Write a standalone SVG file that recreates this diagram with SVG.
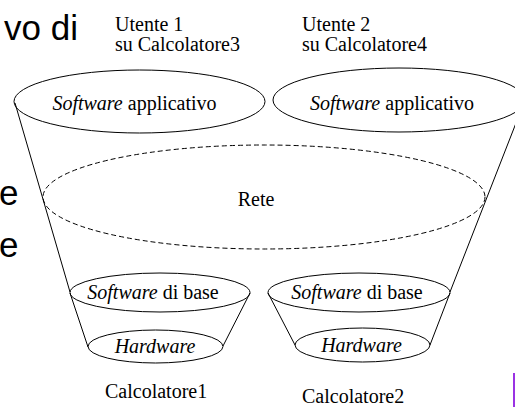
<svg xmlns="http://www.w3.org/2000/svg" width="515" height="407" viewBox="0 0 515 407">
<style>
.sh{fill:none;stroke:#000;stroke-width:1}
.dash{fill:none;stroke:#000;stroke-width:1;stroke-dasharray:5 3}
.t{font-family:"Liberation Serif","Times New Roman",serif;font-size:20px;fill:#000}
.c{text-anchor:middle}
.big{font-family:"Liberation Sans",Arial,sans-serif;font-size:35px;fill:#000}
</style>
<rect width="515" height="407" fill="#fff"/>
<g id="slide-text">
<text class="big" x="78" y="40" text-anchor="end">vo di</text>
<text class="big" x="-1" y="205">e</text>
<text class="big" x="-1" y="257">e</text>
</g>
<g id="connectors">
<line class="sh" x1="15" y1="103" x2="70" y2="292"/>
<line class="sh" x1="525" y1="100" x2="450" y2="292"/>
<line class="sh" x1="70" y1="293" x2="88" y2="347"/>
<line class="sh" x1="250" y1="293" x2="223" y2="346"/>
<line class="sh" x1="268" y1="293" x2="295" y2="345"/>
<line class="sh" x1="450" y1="293" x2="430" y2="345"/>
</g>
<g id="rete">
<ellipse class="dash" cx="264" cy="197" rx="221" ry="52"/>
<text class="t c" x="256" y="206">Rete</text>
</g>
<g id="app1">
<ellipse class="sh" cx="139.5" cy="101.5" rx="125.5" ry="31.5"/>
<text class="t c" x="134.5" y="110"><tspan font-style="italic">Software</tspan> applicativo</text>
</g>
<g id="app2">
<ellipse class="sh" cx="399" cy="100" rx="126" ry="32"/>
<text class="t c" x="392" y="110"><tspan font-style="italic">Software</tspan> applicativo</text>
</g>
<g id="base1">
<ellipse class="sh" cx="160" cy="292.5" rx="90" ry="19.5"/>
<text class="t c" x="153" y="299"><tspan font-style="italic">Software</tspan> di base</text>
</g>
<g id="hw1">
<ellipse class="sh" cx="155.5" cy="346.5" rx="67.5" ry="16.5"/>
<text class="t c" x="155" y="353" font-style="italic">Hardware</text>
</g>
<g id="base2">
<ellipse class="sh" cx="359" cy="292.5" rx="91" ry="19.5"/>
<text class="t c" x="357" y="299"><tspan font-style="italic">Software</tspan> di base</text>
</g>
<g id="hw2">
<ellipse class="sh" cx="362.5" cy="345" rx="67.5" ry="17"/>
<text class="t c" x="361.5" y="352" font-style="italic">Hardware</text>
</g>
<g id="user1">
<text class="t" x="115" y="31">Utente 1</text>
<text class="t" x="115" y="51">su Calcolatore3</text>
</g>
<g id="user2">
<text class="t" x="302" y="31">Utente 2</text>
<text class="t" x="302" y="51">su Calcolatore4</text>
</g>
<g id="calc1"><text class="t" x="105" y="398">Calcolatore1</text></g>
<g id="calc2"><text class="t" x="302" y="403">Calcolatore2</text></g>
<line x1="514" y1="373" x2="514" y2="407" stroke="#9a32e3" stroke-width="2"/>
</svg>
